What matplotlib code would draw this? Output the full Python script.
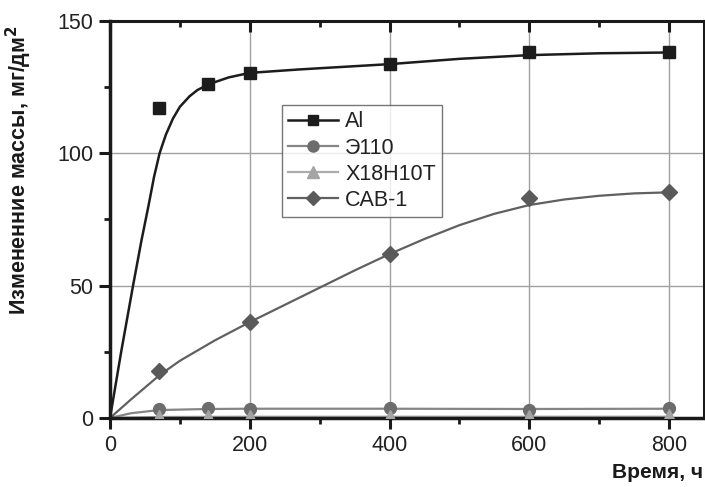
import matplotlib
matplotlib.use("Agg")
import matplotlib.pyplot as plt
from matplotlib.ticker import MultipleLocator

plt.rcParams['font.family'] = ['Liberation Sans', 'DejaVu Sans']

# measured points
t_pts = [70, 140, 200, 400, 600, 800]
al_pts = [117, 126, 130.3, 133.6, 138, 138]
e110_pts = [3.5, 3.6, 3.4, 3.6, 3.1, 3.8]
x18_pts = [0.8, 0.8, 0.9, 0.9, 0.8, 1.0]
cab_pts = [17.7, 36.2, 61.9, 83.1, 85.4]
t_cab = [70, 200, 400, 600, 800]

# fitted curves
al_ct = [0, 16, 33, 45, 55, 63, 71, 80, 90, 100, 114, 125, 141, 170, 200, 271, 400, 500, 600, 700, 800]
al_cy = [0, 25, 50, 67, 80, 91, 100, 107, 113, 117.5, 121.5, 123.8, 126, 128.6, 130.3, 131.6, 133.6, 135.6, 137.0, 137.7, 138]
e110_ct = [0, 30, 70, 140, 200, 400, 600, 800]
e110_cy = [0, 1.8, 3.0, 3.4, 3.5, 3.5, 3.4, 3.5]
x18_ct = [0, 70, 200, 400, 600, 800]
x18_cy = [0, 0.4, 0.5, 0.5, 0.5, 0.5]
cab_ct = [0, 30, 71, 100, 150, 200, 250, 300, 350, 400, 450, 500, 550, 600, 650, 700, 750, 800]
cab_cy = [0, 7.0, 16.2, 21.6, 29.3, 36.2, 42.7, 49.2, 55.7, 61.9, 67.6, 72.8, 77.1, 80.4, 82.5, 83.9, 84.8, 85.2]

labels = ['Al', 'Э110', 'X18H10T', 'CAB-1']

fig = plt.figure(figsize=(7.05, 4.87), dpi=100)
ax = fig.add_axes([110/705, 1-418/487, 594/705, (418-20.7)/487])

ax.set_xlim(0, 850)
ax.set_ylim(0, 150)

for v in [200, 400, 600, 800]:
    ax.axvline(v, color='#a0a0a0', lw=1.0, zorder=0)
for v in [50, 100]:
    ax.axhline(v, color='#a0a0a0', lw=1.0, zorder=0)

c_al, c_e, c_x, c_c = '#1c1c1c', '#6c6c6c', '#a4a4a4', '#5a5a5a'

ax.plot(al_ct, al_cy, color=c_al, lw=1.8, zorder=3)
ax.plot(e110_ct, e110_cy, color='#858585', lw=1.6, zorder=2)
ax.plot(x18_ct, x18_cy, color='#adadad', lw=1.6, zorder=2)
ax.plot(cab_ct, cab_cy, color='#606060', lw=1.6, zorder=2)

ax.plot(t_pts, al_pts, 's', color=c_al, ms=8, ls='none', zorder=5)
ax.plot(t_pts, e110_pts, 'o', color=c_e, ms=8.5, ls='none', zorder=5)
ax.plot(t_pts, x18_pts, '^', color=c_x, ms=8.5, ls='none', zorder=6)
ax.plot(t_cab, cab_pts, 'D', color=c_c, ms=8, ls='none', zorder=5)

# legend handles
h1, = ax.plot([], [], '-s', color=c_al, ms=7.5, lw=1.8)
h2, = ax.plot([], [], '-o', color='#858585', ms=8, lw=1.6, mfc=c_e, mec=c_e)
h3, = ax.plot([], [], '-^', color='#adadad', ms=8.5, lw=1.6, mfc=c_x, mec=c_x)
h4, = ax.plot([], [], '-D', color='#606060', ms=7.5, lw=1.6, mfc=c_c, mec=c_c)
leg = ax.legend([h1, h2, h3, h4], labels, loc='upper left',
                bbox_to_anchor=((282-110)/594, (418-105)/(418-20.7)),
                frameon=True, fancybox=False, fontsize=15.5, handlelength=2.3,
                handletextpad=0.33, labelspacing=0.24, borderpad=0.3,
                borderaxespad=0, edgecolor='#555555')
leg.get_frame().set_linewidth(1.0)
for txt in leg.get_texts():
    txt.set_color('#222222')

ax.xaxis.set_major_locator(MultipleLocator(200))
ax.xaxis.set_minor_locator(MultipleLocator(100))
ax.yaxis.set_major_locator(MultipleLocator(50))
ax.yaxis.set_minor_locator(MultipleLocator(25))

ax.tick_params(axis='both', which='major', direction='out', length=8, width=2.2,
               labelsize=15.5, colors='#1a1a1a', labelcolor='#222222')
ax.tick_params(axis='both', which='minor', direction='out', length=4, width=2.0, colors='#1a1a1a')
ax.tick_params(axis='x', which='major', pad=4)
ax.tick_params(axis='y', which='major', pad=4)
ax.tick_params(top=True, right=True, which='both')
# inward ticks on top and right
for tl in ax.xaxis.get_ticklines(minor=False)[1::2] + ax.xaxis.get_ticklines(minor=True)[1::2]:
    tl.set_marker(3)
for tl in ax.yaxis.get_ticklines(minor=False)[1::2] + ax.yaxis.get_ticklines(minor=True)[1::2]:
    tl.set_marker(1)

ax.spines['left'].set_linewidth(2.5)
ax.spines['bottom'].set_linewidth(2.5)
ax.spines['top'].set_linewidth(2.2)
ax.spines['right'].set_linewidth(2.2)
for s in ax.spines.values():
    s.set_color('#1a1a1a')

fig.text(19/705, 1-170/487, 'Измененние массы, мг/дм$^\\mathbf{2}$', rotation=90,
         ha='center', va='center', fontsize=15.5, fontweight='bold', color='#1a1a1a')
fig.text(703/705, 1-473/487, 'Время, ч', ha='right', va='center',
         fontsize=15, fontweight='bold', color='#1a1a1a')

fig.savefig('out.png', dpi=100)
